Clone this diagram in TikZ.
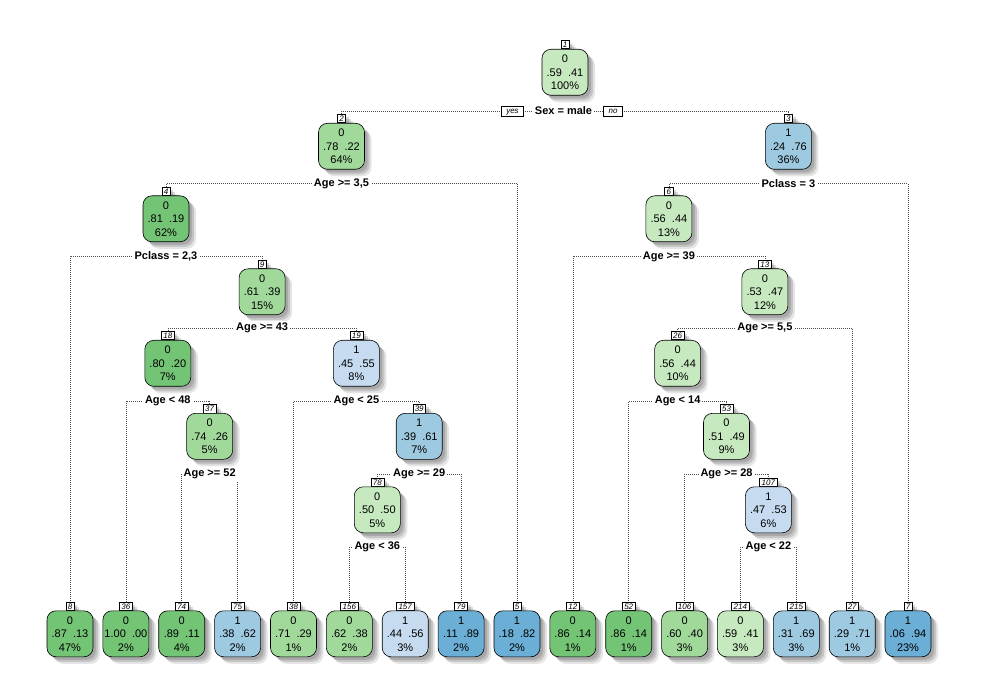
\documentclass[tikz,border=0pt]{standalone}
\usepackage{fontspec}
\setmainfont{Liberation Sans}
\usetikzlibrary{shadows}
\pgfdeclarelayer{bg}
\pgfsetlayers{bg,main}
\definecolor{DG}{HTML}{74C476}
\definecolor{MG}{HTML}{A1D99B}
\definecolor{LG}{HTML}{C7E9C0}
\definecolor{LB}{HTML}{C6DBEF}
\definecolor{MB}{HTML}{9ECAE1}
\definecolor{DB}{HTML}{6BAED6}
\tikzset{
  softshadow/.style={
    general shadow={shadow xshift=3pt, shadow yshift=-3pt, fill=black, opacity=0.14},
    general shadow={shadow xshift=5pt, shadow yshift=-5pt, fill=black, opacity=0.14},
    general shadow={shadow xshift=7pt, shadow yshift=-7pt, fill=black, opacity=0.10}},
  tbox/.style={draw=black, line width=0.6pt, rounded corners=9pt, minimum width=46pt,
    minimum height=46pt, inner sep=0pt, anchor=north, align=center,
    font=\fontsize{11}{13.5}\selectfont, softshadow},
  numlab/.style={draw=black, line width=0.5pt, fill=white, anchor=south, inner xsep=2pt,
    inner ysep=1.2pt, text height=6pt, text depth=0pt,
    font=\fontsize{8}{8.5}\selectfont\itshape, softshadow},
  splittxt/.style={fill=white, inner xsep=2pt, inner ysep=1.5pt,
    font=\bfseries\fontsize{11}{12}\selectfont},
  ynbox/.style={draw=black, line width=0.5pt, fill=white, inner xsep=5pt, inner ysep=1.5pt,
    text height=6pt, text depth=1pt, font=\fontsize{8}{9}\selectfont\itshape},
  conn/.style={draw=black!70, line width=0.6pt, dash pattern=on 0.6pt off 1.4pt}
}
\newcommand\treenode[5]{%
  \node[numlab] (l#1) at (#2,#3) {#1};
  \node[tbox, fill=#4] (b#1) at (#2,#3) {#5};}
\newcommand\splitnode[4]{\node[splittxt] (s#1) at (#2,#3) {#4};}
\newcommand\linkkids[3]{%
  \draw[conn] (s#1.center) -| (l#2.north);
  \draw[conn] (s#1.center) -| (l#3.north);}
\begin{document}
\begin{tikzpicture}[x=1pt, y=-1pt]
\useasboundingbox (0,0) rectangle (983,676);
% internal nodes
\treenode{1}{565}{49}{LG}{0\\.59\ \ .41\\100\%}
\treenode{2}{341.5}{123}{MG}{0\\.78\ \ .22\\64\%}
\treenode{3}{788.4}{123}{MB}{1\\.24\ \ .76\\36\%}
\treenode{4}{166}{195.5}{DG}{0\\.81\ \ .19\\62\%}
\treenode{6}{668.9}{195.5}{LG}{0\\.56\ \ .44\\13\%}
\treenode{9}{262.1}{268.5}{MG}{0\\.61\ \ .39\\15\%}
\treenode{13}{764.9}{268.5}{LG}{0\\.53\ \ .47\\12\%}
\treenode{18}{167.8}{340}{DG}{0\\.80\ \ .20\\7\%}
\treenode{19}{356.4}{340}{LB}{1\\.45\ \ .55\\8\%}
\treenode{26}{677.6}{340}{LG}{0\\.56\ \ .44\\10\%}
\treenode{37}{209.65}{413}{MG}{0\\.74\ \ .26\\5\%}
\treenode{39}{419.2}{413}{MB}{1\\.39\ \ .61\\7\%}
\treenode{53}{726.5}{413}{LG}{0\\.51\ \ .49\\9\%}
\treenode{78}{377.3}{486.5}{LG}{0\\.50\ \ .50\\5\%}
\treenode{107}{768.4}{486.5}{LB}{1\\.47\ \ .53\\6\%}
% leaves
\treenode{8}{70}{610.5}{DG}{0\\.87\ \ .13\\47\%}
\treenode{36}{125.9}{610.5}{DG}{0\\1.00\ \ .00\\2\%}
\treenode{74}{181.7}{610.5}{DG}{0\\.89\ \ .11\\4\%}
\treenode{75}{237.6}{610.5}{MB}{1\\.38\ \ .62\\2\%}
\treenode{38}{293.5}{610.5}{MG}{0\\.71\ \ .29\\1\%}
\treenode{156}{349.4}{610.5}{MG}{0\\.62\ \ .38\\2\%}
\treenode{157}{405.2}{610.5}{LB}{1\\.44\ \ .56\\3\%}
\treenode{79}{461.1}{610.5}{DB}{1\\.11\ \ .89\\2\%}
\treenode{5}{517}{610.5}{DB}{1\\.18\ \ .82\\2\%}
\treenode{12}{572.8}{610.5}{DG}{0\\.86\ \ .14\\1\%}
\treenode{52}{628.7}{610.5}{DG}{0\\.86\ \ .14\\1\%}
\treenode{106}{684.6}{610.5}{MG}{0\\.60\ \ .40\\3\%}
\treenode{214}{740.4}{610.5}{LG}{0\\.59\ \ .41\\3\%}
\treenode{215}{796.3}{610.5}{MB}{1\\.31\ \ .69\\3\%}
\treenode{27}{852.2}{610.5}{MB}{1\\.29\ \ .71\\1\%}
\treenode{7}{908}{610.5}{DB}{1\\.06\ \ .94\\23\%}
% split labels
\splitnode{1}{563.5}{111}{Sex = male}
\node[ynbox] (yes) at (512.5,111) {yes};
\node[ynbox] (no) at (613,111) {no};
\splitnode{2}{341.5}{183.5}{Age >= 3,5}
\splitnode{3}{788.4}{183.5}{Pclass = 3}
\splitnode{4}{166}{256.5}{Pclass = 2,3}
\splitnode{6}{668.9}{256.5}{Age >= 39}
\splitnode{9}{262.1}{328}{Age >= 43}
\splitnode{13}{764.9}{328}{Age >= 5,5}
\splitnode{18}{167.8}{401}{Age < 48}
\splitnode{19}{356.4}{401}{Age < 25}
\splitnode{26}{677.6}{401}{Age < 14}
\splitnode{37}{209.65}{474}{Age >= 52}
\splitnode{39}{419.2}{474}{Age >= 29}
\splitnode{53}{726.5}{474}{Age >= 28}
\splitnode{78}{377.3}{547}{Age < 36}
\splitnode{107}{768.4}{547}{Age < 22}
% connectors
\begin{pgfonlayer}{bg}
\linkkids{1}{2}{3}
\linkkids{2}{4}{5}
\linkkids{3}{6}{7}
\linkkids{4}{8}{9}
\linkkids{6}{12}{13}
\linkkids{9}{18}{19}
\linkkids{13}{26}{27}
\linkkids{18}{36}{37}
\linkkids{19}{38}{39}
\linkkids{26}{52}{53}
\linkkids{37}{74}{75}
\linkkids{39}{78}{79}
\linkkids{53}{106}{107}
\linkkids{78}{156}{157}
\linkkids{107}{214}{215}
\end{pgfonlayer}
\end{tikzpicture}
\end{document}
